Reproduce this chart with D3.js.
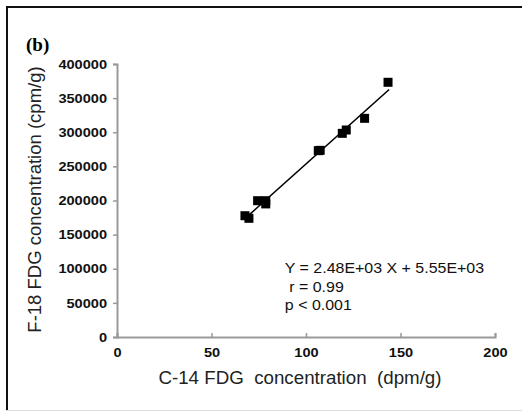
<!DOCTYPE html>
<html>
<head>
<meta charset="utf-8">
<script src="https://cdn.jsdelivr.net/npm/d3@7"></script>
<style>
  body { margin: 0; background: #fff; }
  svg { display: block; font-family: "Liberation Sans", Arial, sans-serif; }
</style>
</head>
<body>
<div id="chart"></div>
<script>
// C-14 FDG (dpm/g) vs F-18 FDG (cpm/g)
const c14 = [67.7, 69.8, 74.4, 78.7, 78.7, 106.5, 107.5, 119.2, 121.3, 131, 143.4];
const f18 = [177700, 173900, 199700, 199700, 195000, 273000, 273500, 298400, 303300, 320400, 373200];
const xTicks = [0, 50, 100, 150, 200];
const yTicks = [0, 50000, 100000, 150000, 200000, 250000, 300000, 350000, 400000];
const slope = 2480, intercept = 5550;
const fitRange = [69, 144];
const notes = ["Y = 2.48E+03 X + 5.55E+03", " r = 0.99", "p < 0.001"];

const W = 522, H = 412;
const margin = { top: 64, right: 27, bottom: 75, left: 117 };
const width = W - margin.left - margin.right;
const height = H - margin.top - margin.bottom;

// rozciągnięcie tekstu w poziomie (oryginał jest lekko poszerzony)
const stretch = (sel, k) => sel.each(function () {
    const w = this.getComputedTextLength();
    d3.select(this).attr("textLength", w * k).attr("lengthAdjust", "spacingAndGlyphs");
});

const svg = d3.select("#chart").append("svg")
    .attr("width", W)
    .attr("height", H);

// ramka (góra + lewa czarna, dół szary)
svg.append("line").attr("x1", 6).attr("y1", 7).attr("x2", W).attr("y2", 7)
    .attr("stroke", "#111").attr("stroke-width", 2);
svg.append("line").attr("x1", 7).attr("y1", 6).attr("x2", 7).attr("y2", 410)
    .attr("stroke", "#111").attr("stroke-width", 2);
svg.append("line").attr("x1", 6).attr("y1", 410.5).attr("x2", W).attr("y2", 410.5)
    .attr("stroke", "#ddd").attr("stroke-width", 1);

svg.append("text")
    .attr("x", 26).attr("y", 51)
    .style("font-family", "'Liberation Serif', 'Times New Roman', serif")
    .style("font-weight", "bold")
    .style("font-size", "19px")
    .text("(b)");

const g = svg.append("g").attr("transform", `translate(${margin.left},${margin.top})`);

const x = d3.scaleLinear().domain([0, 200]).range([0, width]);
const y = d3.scaleLinear().domain([0, 400000]).range([height, 0]);

// osie
const xAxis = g.append("g")
    .attr("transform", `translate(0,${height})`)
    .call(d3.axisTop(x).tickValues(xTicks).tickSize(4).tickFormat(d3.format("d")));
xAxis.selectAll("text").attr("y", 11).attr("dy", "0.71em");

const yAxis = g.append("g")
    .call(d3.axisLeft(y).tickValues(yTicks).tickSize(4).tickPadding(6).tickFormat(d3.format("d")));

[xAxis, yAxis].forEach(a => {
    a.select(".domain").attr("stroke", "#999").attr("stroke-width", 2);
    a.selectAll(".tick line").attr("stroke", "#999").attr("stroke-width", 1.5);
    a.selectAll("text")
        .style("font-size", "13px")
        .style("font-weight", "bold")
        .attr("fill", "#111")
        .call(stretch, 1.12);
});

// linia regresji
g.append("line")
    .attr("x1", x(fitRange[0])).attr("y1", y(slope * fitRange[0] + intercept))
    .attr("x2", x(fitRange[1])).attr("y2", y(slope * fitRange[1] + intercept))
    .attr("stroke", "#000").attr("stroke-width", 1.6);

// punkty
const s = 9;
g.selectAll("rect.pt")
    .data(c14.map((v, i) => [v, f18[i]]))
    .join("rect")
    .attr("class", "pt")
    .attr("x", d => x(d[0]) - s / 2)
    .attr("y", d => y(d[1]) - s / 2)
    .attr("width", s)
    .attr("height", s)
    .attr("fill", "#000");

// adnotacja
g.append("g").selectAll("text")
    .data(notes)
    .join("text")
    .attr("x", x(88.8))
    .attr("y", (d, i) => y(100000) + 4.5 + i * 18.3)
    .style("font-size", "14.5px")
    .attr("fill", "#111")
    .attr("xml:space", "preserve")
    .style("white-space", "pre")
    .text(d => d)
    .call(stretch, 1.1);

// tytuły osi
svg.append("text")
    .attr("x", margin.left + width / 2 - 6)
    .attr("y", 384)
    .style("text-anchor", "middle")
    .style("font-size", "17.5px")
    .style("white-space", "pre")
    .attr("fill", "#222")
    .text("C-14 FDG  concentration  (dpm/g)")
    .call(stretch, 1.07);

svg.append("text")
    .attr("transform", `translate(41,${margin.top + height / 2 - 1}) rotate(-90)`)
    .style("text-anchor", "middle")
    .style("font-size", "18.5px")
    .attr("fill", "#222")
    .text("F-18 FDG concentration (cpm/g)");
</script>
</body>
</html>
